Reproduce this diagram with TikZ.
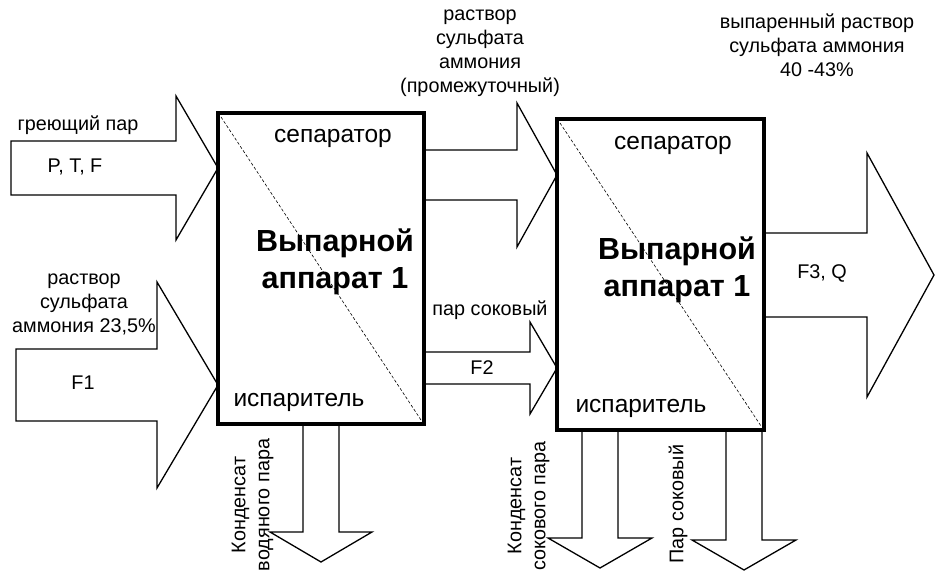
\documentclass[tikz,border=0pt]{standalone}
\usepackage{fontspec}
\setmainfont{Liberation Sans}
\usetikzlibrary{calc}

\begin{document}
\begin{tikzpicture}[x=1pt,y=-1pt,
  flow/.style={draw=black, line width=1.3pt, line join=miter},
  unit/.style={draw=black, line width=4.5pt, fill=white, minimum width=206pt,
    minimum height=311pt, inner sep=0pt, outer sep=0pt},
  lbl/.style={font=\fontsize{19.8}{24}\selectfont, align=center, inner sep=0pt},
  part/.style={font=\fontsize{24.5}{29}\selectfont, inner sep=0pt},
  title/.style={font=\bfseries\fontsize{30.5}{37}\selectfont, align=center, inner sep=0pt},
  diag/.style={line width=0.6pt, dash pattern=on 3pt off 2pt}]

\useasboundingbox (0,0) rectangle (935,572);

% evaporator units
\node[unit] (b1) at (321,268.5) {};
\node[unit, minimum width=207pt] (b2) at (660.5,274.5) {};
\draw[diag] ([shift={(3pt,-4pt)}]b1.north west) -- ([shift={(-3pt,4pt)}]b1.south east);
\draw[diag] ([shift={(3pt,-4pt)}]b2.north west) -- ([shift={(-3pt,4pt)}]b2.south east);

\node[part] (sep1) at (333,138) {сепаратор};
\node[title] (t1) at (335,261.5) {Выпарной\\аппарат 1};
\node[part] (isp1) at (299,402) {испаритель};
\node[part] (sep2) at (673,145) {сепаратор};
\node[title] (t2) at (677,270) {Выпарной\\аппарат 1};
\node[part] (isp2) at (641,408) {испаритель};

% heating steam into unit 1
\coordinate (tipA) at (b1.west |- 0,168);
\draw[flow] (11,141) -- (176,141) -- (176,96) -- (tipA) -- (176,240) -- (176,195) -- (11,195) -- cycle;
\node[lbl] (gp) at (78,125) {греющий пар};
\node[lbl] (ptf) at (75,167) {P, T, F};

% feed solution into unit 1
\coordinate (tipB) at (b1.west |- 0,385);
\draw[flow] (16,349) -- (157,349) -- (157,282) -- (tipB) -- (157,488) -- (157,421) -- (16,421) -- cycle;
\node[lbl] (feed) at (84,304.5) {раствор\\сульфата\\аммония 23,5\%};
\node[lbl] (f1) at (83,383) {F1};

% intermediate solution from unit 1 to unit 2
\coordinate (tipC) at (b2.west |- 0,175);
\draw[flow] (b1.east |- 0,150) -- (517,150) -- (517,103) -- (tipC) -- (517,247) -- (517,200) -- (b1.east |- 0,200);
\node[lbl] (mid) at (480,53) {раствор\\сульфата\\аммония\\(промежуточный)};

% secondary steam from unit 1 to unit 2
\coordinate (tipD) at (b2.west |- 0,368);
\draw[flow] (b1.east |- 0,352) -- (530,352) -- (530,322) -- (tipD) -- (530,414) -- (530,384) -- (b1.east |- 0,384);
\node[lbl] (ps) at (490,310) {пар соковый};
\node[lbl] (f2) at (482,368) {F2};

% evaporated product
\draw[flow] (b2.east |- 0,233) -- (867,233) -- (867,153) -- (934,275) -- (867,397) -- (867,317) -- (b2.east |- 0,317);
\node[lbl] (f3) at (822,273) {F3, Q};
\node[lbl] (prod) at (817,45) {выпаренный раствор\\сульфата аммония\\40 -43\%};

% condensate of heating steam
\draw[flow] (b1.south -| 303,0) -- (303,532) -- (270,532) -- (321,562) -- (372,532) -- (339,532) -- (b1.south -| 339,0);
\node[lbl, rotate=90] (k1) at (252.5,505) {Конденсат\\водяного пара};

% condensate of secondary steam
\draw[flow] (b2.south -| 582,0) -- (582,538) -- (548,538) -- (600,568) -- (652,538) -- (618,538) -- (b2.south -| 618,0);
\node[lbl, rotate=90] (k2) at (528.5,506) {Конденсат\\сокового пара};

% secondary steam from unit 2
\draw[flow] (b2.south -| 726,0) -- (726,540) -- (692,540) -- (744,570) -- (796,540) -- (762,540) -- (b2.south -| 762,0);
\node[lbl, rotate=90] (k3) at (678,504) {Пар соковый};

\end{tikzpicture}
\end{document}
